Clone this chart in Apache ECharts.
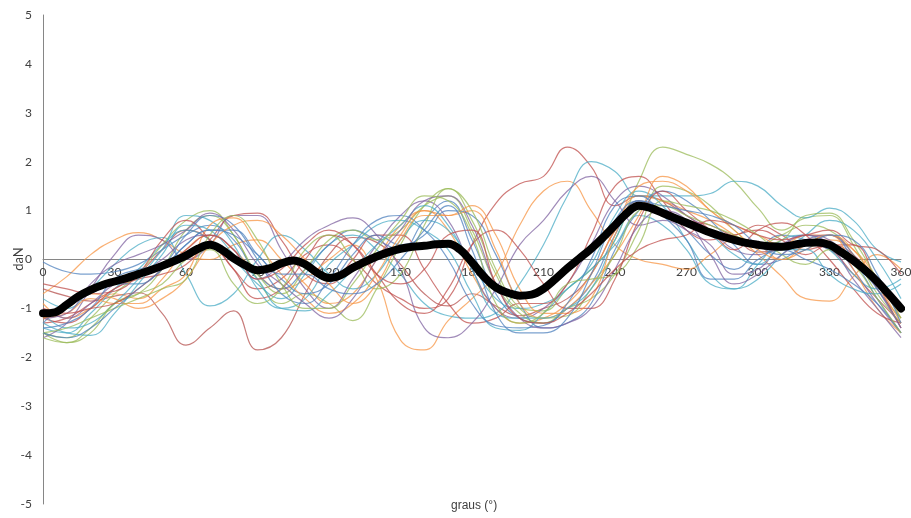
<!DOCTYPE html>
<html>
<head>
<meta charset="utf-8">
<script src="https://cdn.jsdelivr.net/npm/echarts@6/dist/echarts.min.js"></script>
<style>
  html, body { margin: 0; padding: 0; background: #fff; }
  #chart { width: 911px; height: 518px; }
</style>
</head>
<body>
<div id="chart"></div>
<script>
// Crank angle positions (degrees)
const angles10 = [0,10,20,30,40,50,60,70,80,90,100,110,120,130,140,150,160,170,180,
  190,200,210,220,230,240,250,260,270,280,290,300,310,320,330,340,350,360];
const angles5 = [0,5,10,15,20,25,30,35,40,45,50,55,60,65,70,75,80,85,90,95,100,105,110,115,
  120,125,130,135,140,145,150,155,160,165,170,175,180,185,190,195,200,205,210,215,220,225,
  230,235,240,245,250,255,260,265,270,275,280,285,290,295,300,305,310,315,320,325,330,335,
  340,345,350,355,360];

// Individual force curves (daN), one per revolution
const curve01 = [-0.6,-0.75,-0.85,-0.75,-0.68,-1.1,-1.75,-1.4,-1.05,-1.85,-1.6,-0.7,0.1,0.45,0.35,-0.1,-0.7,-0.95,-0.7,-0.95,-1.15,-1.0,-0.8,-0.3,0.6,1.2,1.0,0.8,0.7,0.45,0.15,0.2,0.3,0.2,-0.3,-0.8,-1.3];
const curve02 = [-1.3,-1.2,-0.9,-0.6,-0.3,0.2,0.6,0.4,-0.2,-0.6,-0.4,0.1,0.3,0.0,-0.5,-0.8,-1.0,-0.8,0.3,1.15,1.55,1.7,2.3,1.9,1.1,1.3,1.2,0.9,0.6,0.5,0.7,0.5,0.2,0.3,0.1,-0.5,-1.0];
const curve03 = [-0.9,-1.2,-1.0,-0.7,-0.8,-0.4,0.2,0.5,0.2,-0.3,-0.6,-0.4,0.0,0.3,-0.4,-1.65,-1.85,-1.25,-0.8,-0.3,0.7,1.4,1.6,1.0,0.3,0.0,-0.1,-0.2,0.1,0.4,0.3,0.0,0.2,0.4,0.2,-0.4,-1.2];
const curve04 = [-1.5,-1.7,-1.4,-0.9,-0.7,-0.2,0.6,0.9,0.5,-0.4,-0.9,-0.7,-0.9,-1.25,-0.6,0.3,1.1,1.45,0.8,-0.3,-1.0,-1.05,-0.6,-0.2,0.4,1.6,2.3,2.15,1.95,1.6,1.05,0.6,0.85,0.9,0.3,-0.6,-1.2];
const curve05 = [-1.4,-1.5,-1.1,-0.6,-0.2,0.3,0.6,0.4,0.0,-0.5,-0.8,-0.3,0.3,0.5,0.2,-0.3,-0.9,-1.15,-1.2,-1.1,-0.5,0.3,1.3,2.0,1.8,1.3,1.3,1.3,1.35,1.6,1.5,1.1,0.85,1.05,0.8,0.2,-0.05];
const curve06 = [-0.7,-0.35,0.1,0.4,0.55,0.4,0.1,0.0,0.3,0.4,0.0,-0.5,-0.9,-0.7,0.0,0.7,1.0,0.6,-0.3,-1.0,-1.3,-1.2,-0.9,-0.3,0.6,1.3,1.2,1.0,0.8,0.5,0.1,-0.35,-0.8,-0.85,-0.35,0.1,-0.2];
const curve07 = [-0.05,-0.25,-0.3,-0.25,-0.1,0.2,0.5,0.7,0.4,-0.3,-0.6,-0.2,0.3,0.6,0.4,0.2,0.8,1.2,0.4,-0.7,-1.2,-1.3,-1.0,-0.5,0.5,1.2,1.0,0.6,0.1,-0.2,0.2,0.5,0.4,0.2,-0.1,-0.6,-1.4];
const curve08 = [-1.6,-1.3,-0.6,0.1,0.5,0.4,0.0,0.3,0.9,0.9,0.2,-0.6,-1.0,-0.4,0.3,0.9,1.2,0.8,-0.2,-1.0,-1.2,-1.0,-0.5,0.3,1.2,1.5,1.3,0.9,0.6,0.2,0.1,0.3,0.5,0.4,-0.2,-0.9,-1.5];
const curve09 = [-0.8,-1.0,-0.6,-0.1,0.3,0.45,-0.3,-0.95,-0.7,0.0,0.5,0.2,-0.3,-0.6,-0.3,0.4,0.8,0.6,-0.1,-0.8,-1.0,-0.9,-0.6,-0.1,0.9,1.4,1.1,0.4,-0.3,-0.6,-0.4,0.1,0.5,0.8,0.6,0.0,-0.8];
const curve10 = [-1.2,-1.3,-1.0,-0.6,-0.4,-0.3,-0.1,0.4,0.9,0.95,0.4,-0.3,-0.5,0.0,0.5,0.5,-0.2,-0.9,-1.3,-1.2,-0.9,-0.9,-0.5,0.5,1.5,1.7,1.2,0.6,0.4,0.5,0.6,0.4,0.1,0.3,0.3,-0.5,-1.4];
const curve11 = [-1.5,-1.6,-1.2,-0.7,-0.3,0.3,0.8,1.0,0.5,-0.3,-0.7,-0.2,0.4,0.6,0.4,0.6,1.1,1.3,0.6,-0.5,-1.1,-1.3,-1.0,-0.8,-0.3,0.6,1.5,1.4,1.1,0.6,0.3,0.5,0.7,0.6,0.1,-0.7,-1.3];
const curve12 = [-1.3,-0.9,-0.7,-0.5,-0.5,-0.2,0.3,0.6,0.6,0.1,-0.4,-0.7,-0.5,0.1,0.5,0.3,0.5,1.0,0.9,0.1,-0.9,-1.4,-1.3,-0.9,0.2,1.0,1.4,1.2,0.8,0.3,-0.1,0.0,0.3,0.5,0.0,-0.8,-1.5];
const curve13 = [-1.1,-1.4,-1.3,-0.9,-0.4,0.2,0.9,0.8,0.3,-0.6,-1.0,-0.8,-0.1,0.3,0.7,0.8,0.6,0.2,-0.7,-1.4,-1.45,-1.1,-0.6,-0.2,0.3,0.9,0.7,0.2,-0.5,-0.6,-0.1,0.4,0.5,0.2,-0.3,-0.6,-0.4];
const curve14 = [-1.2,-1.1,-0.8,-0.9,-0.9,-0.6,-0.3,0.7,0.85,0.3,-0.3,-0.8,-1.1,-0.9,-0.3,0.5,1.0,0.9,1.0,0.2,-0.9,-1.2,-1.0,-0.5,0.1,0.9,1.7,1.5,1.0,0.7,0.5,0.3,0.5,0.5,-0.2,-1.0,-1.5];
const curve15 = [-1.0,-1.2,-0.9,-0.5,-0.3,0.0,0.4,0.5,0.2,-0.4,-0.1,0.4,0.7,0.85,0.5,-0.2,-1.4,-1.6,-1.3,-0.6,0.3,0.8,1.4,1.7,1.2,0.7,0.8,0.6,0.3,-0.3,-0.2,0.3,0.5,0.3,-0.4,-1.0,-1.6];
const curve16 = [-0.5,-0.6,-0.7,-0.65,-0.3,0.4,0.8,0.4,-0.2,-0.8,-0.6,0.0,0.5,0.3,-0.3,-0.9,-1.1,-0.6,0.3,0.6,0.2,-0.5,-1.0,-1.0,-0.4,0.8,1.4,1.0,0.6,0.2,0.6,0.75,0.5,0.0,-0.6,-1.1,-1.3];
const curve17 = [-1.6,-1.7,-1.5,-0.9,-0.7,-0.5,0.0,0.2,-0.5,-0.9,-0.6,0.2,0.5,0.0,-0.6,-0.3,0.7,1.45,1.0,-0.2,-1.0,-1.2,-1.15,-0.6,0.1,1.0,1.1,0.9,0.7,0.5,0.3,0.4,0.9,0.95,0.4,-0.4,-1.2];
const curve18 = [-1.4,-1.3,-1.0,-0.4,-0.2,-0.1,0.5,0.9,0.7,0.0,-0.7,-0.9,-0.4,0.3,0.8,0.9,0.6,0.0,-0.9,-1.35,-1.4,-1.35,-0.9,0.0,1.1,1.3,0.9,0.4,-0.4,-0.4,0.0,0.2,0.0,-0.2,-0.5,-0.9,-1.5];
const curve19 = [-1.3,-1.5,-1.55,-1.1,-0.5,0.1,0.7,0.6,0.1,-0.4,-1.0,-1.05,-0.7,-0.2,0.3,0.7,1.1,0.7,-0.2,-1.1,-1.2,-1.2,-1.0,-0.6,0.4,1.1,1.0,0.7,0.5,0.1,-0.1,0.2,0.2,-0.3,-0.6,-0.7,-0.5];
const curve20 = [-1.2,-1.1,-0.5,-0.1,0.1,0.3,0.6,0.95,0.6,-0.1,-0.5,-0.9,-1.2,-0.8,0.0,0.6,1.2,1.3,0.7,-0.5,-1.2,-1.4,-1.3,-1.0,-0.2,0.7,1.0,0.8,0.1,-0.5,-0.3,0.1,0.4,0.5,0.1,-0.6,-1.4];
const curve21 = [-1.2,-1.0,-0.7,-0.8,-1.0,-0.8,-0.4,0.3,0.7,0.8,0.5,0.0,-0.5,-0.9,-0.5,0.4,0.9,0.9,1.1,0.5,-0.6,-1.1,-1.1,-0.8,0.5,1.5,1.6,1.4,1.0,0.6,0.2,0.0,0.3,0.5,0.2,-0.5,-1.3];
const curve22 = [-1.5,-1.4,-1.2,-1.0,-0.8,-0.6,-0.4,0.5,0.9,0.4,-0.5,-1.0,-1.0,-0.5,0.2,0.8,1.3,1.2,0.5,-0.9,-1.3,-1.1,-0.5,-0.4,-0.3,0.3,1.2,1.1,1.0,0.8,0.5,0.1,-0.1,0.2,-0.1,-0.8,-1.5];
const curve23 = [-1.0,-1.1,-1.0,-0.9,-0.6,-0.2,0.2,0.5,0.2,-0.4,-0.2,0.3,0.6,0.3,-0.3,-0.5,-0.2,0.5,0.6,-0.5,-1.2,-1.3,-1.1,-0.7,-0.2,0.2,0.4,0.5,0.8,0.7,0.5,0.4,0.5,0.6,0.3,0.2,-0.3];
const curve24 = [-1.5,-1.6,-1.4,-1.0,-0.6,-0.2,0.3,0.6,0.5,0.1,-0.3,-0.3,-0.6,-0.7,-0.5,0.0,0.6,1.1,0.2,-1.1,-1.5,-1.5,-1.2,-0.3,0.8,1.2,1.1,1.0,0.9,0.7,0.3,0.1,0.2,0.5,0.4,-0.3,-1.3];

// Average curve (daN)
const meanCurve = [-1.1,-1.08,-0.92,-0.75,-0.62,-0.52,-0.45,-0.38,-0.3,-0.22,-0.13,-0.03,0.08,0.22,0.3,0.2,
  0.02,-0.12,-0.22,-0.18,-0.08,-0.02,-0.1,-0.27,-0.38,-0.32,-0.17,-0.05,0.06,0.15,0.22,0.26,0.28,0.31,0.32,
  0.2,-0.06,-0.35,-0.57,-0.68,-0.74,-0.72,-0.6,-0.4,-0.18,0.02,0.22,0.45,0.7,0.95,1.1,1.05,0.95,0.85,0.75,
  0.65,0.55,0.47,0.4,0.34,0.3,0.27,0.26,0.3,0.34,0.35,0.3,0.15,-0.02,-0.22,-0.45,-0.72,-1.0];

const curves = [curve01,curve02,curve03,curve04,curve05,curve06,curve07,curve08,curve09,curve10,curve11,curve12,
  curve13,curve14,curve15,curve16,curve17,curve18,curve19,curve20,curve21,curve22,curve23,curve24];
const curveColors = ['#B5524F','#C0504D','#F79646','#9BBB59','#4BACC6','#F79646','#4F81BD','#8064A2',
  '#4BACC6','#C0504D','#9BBB59','#4F81BD','#4BACC6','#F79646','#8064A2','#C0504D','#9BBB59','#4F81BD',
  '#4BACC6','#8064A2','#F79646','#9BBB59','#C0504D','#4F81BD'];

const yMin = -5, yMax = 5;

const pairs = (xs, ys) => xs.map((x, i) => [x, ys[i]]);

const series = curves.map((c, i) => ({
  type: 'line',
  data: pairs(angles10, c),
  smooth: 0.45,
  symbol: 'none',
  silent: true,
  lineStyle: { width: 1.2, color: curveColors[i], opacity: 0.75 },
  z: 2
}));
series.push({
  type: 'line',
  data: pairs(angles5, meanCurve),
  smooth: 0.4,
  symbol: 'none',
  silent: true,
  lineStyle: { width: 8, color: '#000000', cap: 'round' },
  z: 5
});

// Plot box geometry; the angle axis sits on the zero force line
const plotTop = 15, plotBottom = 14, plotHeight = 518 - plotTop - plotBottom;
const zeroOffset = -plotHeight * (0 - yMin) / (yMax - yMin);

const chart = echarts.init(document.getElementById('chart'), null, { renderer: 'canvas' });
chart.setOption({
  animation: false,
  backgroundColor: '#ffffff',
  grid: { left: 43, right: 10, top: plotTop, bottom: plotBottom, containLabel: false, outerBoundsMode: 'none' },
  xAxis: {
    type: 'value', min: 0, max: 360, interval: 30,
    position: 'bottom', offset: zeroOffset,
    axisLine: { onZero: false, lineStyle: { color: '#868686', width: 1 } },
    axisTick: { show: false },
    splitLine: { show: false },
    axisLabel: { color: '#404040', fontSize: 12, fontFamily: 'Lato', margin: 7 }
  },
  yAxis: {
    type: 'value', min: yMin, max: yMax, interval: 1,
    axisLine: { show: true, lineStyle: { color: '#868686', width: 1 } },
    axisTick: { show: false },
    splitLine: { show: false },
    axisLabel: { color: '#404040', fontSize: 12, fontFamily: 'Lato', margin: 11 }
  },
  graphic: [{
    type: 'text', x: 19, y: 259, rotation: Math.PI / 2,
    style: { text: 'daN', fill: '#404040', font: '13px Lato', align: 'center', verticalAlign: 'middle' }
  }, {
    type: 'text', left: 451, top: 500,
    style: { text: 'graus (°)', fill: '#404040', font: '12px "Liberation Sans"' }
  }],
  series: series
});
</script>
</body>
</html>
